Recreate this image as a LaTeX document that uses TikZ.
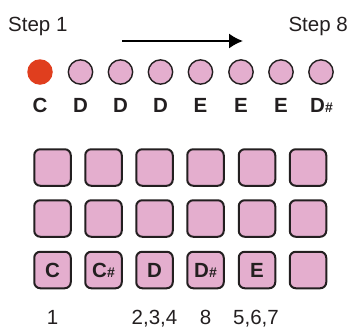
\documentclass[tikz,border=0pt]{standalone}
\usepackage{fontspec}
\setmainfont{Liberation Sans}
\usepackage{xcolor}
\usepackage{tikz}
\usetikzlibrary{arrows.meta, positioning}
\definecolor{padpink}{RGB}{228,174,206}
\definecolor{stepred}{RGB}{224,62,30}
\definecolor{edgegray}{RGB}{35,31,32}
\newcommand{\shp}{{\fontsize{14}{14}\selectfont\bfseries\#}}
\tikzset{
  stepdot/.style={
    circle, draw=edgegray, line width=1.4pt, fill=padpink,
    minimum size=24.3pt, inner sep=0pt
  },
  stepdotred/.style={
    circle, fill=stepred, minimum size=25.5pt, inner sep=0pt
  },
  notelabel/.style={
    font=\fontsize{20.5}{24}\selectfont\bfseries, text=edgegray,
    anchor=base, inner sep=0pt
  },
  padbox/.style={
    draw=edgegray, line width=2pt, rounded corners=6pt, fill=padpink,
    minimum size=36.5pt, inner sep=0pt,
    font=\fontsize{20.5}{24}\selectfont\bfseries, text=edgegray
  },
  steplabel/.style={
    font=\fontsize{20.5}{24}\selectfont, text=edgegray, inner sep=0pt
  },
  countlabel/.style={
    font=\fontsize{20.5}{24}\selectfont, text=edgegray,
    anchor=base, inner sep=0pt
  },
  steparrow/.style={-{Latex[length=14pt, width=15pt]}, line width=1.8pt, black},
}

\begin{document}
\begin{tikzpicture}[x=1pt, y=-1pt]
  \useasboundingbox (0,0) rectangle (353,327);

  % === Step headings ===
  \node[steplabel, anchor=base west] (first) at (8,31) {Step 1};
  \node[steplabel, anchor=base east] (last) at (348,31) {Step 8};

  % === Direction arrow ===
  \coordinate (arrstart) at (122,41);
  \coordinate (arrend) at (243,41);
  \draw[steparrow] (arrstart) -- (arrend);

  % === Sequencer steps ===
  \node[stepdotred] (s1) at (40,72) {};
  \node[stepdot] (s2) at (80.5,72) {};
  \node[stepdot] (s3) at (120.5,72) {};
  \node[stepdot] (s4) at (160.5,72) {};
  \node[stepdot] (s5) at (200.5,72) {};
  \node[stepdot] (s6) at (241,72) {};
  \node[stepdot] (s7) at (281,72) {};
  \node[stepdot] (s8) at (321,72) {};

  % === Step notes ===
  \node[notelabel] (n1) at (40,112) {C};
  \node[notelabel] (n2) at (80.5,112) {D};
  \node[notelabel] (n3) at (120.5,112) {D};
  \node[notelabel] (n4) at (160.5,112) {D};
  \node[notelabel] (n5) at (200.5,112) {E};
  \node[notelabel] (n6) at (241,112) {E};
  \node[notelabel] (n7) at (281,112) {E};
  \node[notelabel] (n8) at (321.5,112) {D\shp};

  % === Pad grid, top row ===
  \node[padbox] (pa1) at (52.5,167.5) {};
  \node[padbox] (pa2) at (103.5,167.5) {};
  \node[padbox] (pa3) at (154.5,167.5) {};
  \node[padbox] (pa4) at (205.5,167.5) {};
  \node[padbox] (pa5) at (257,167.5) {};
  \node[padbox] (pa6) at (308,167.5) {};

  % === Pad grid, middle row ===
  \node[padbox] (pb1) at (52.5,218.5) {};
  \node[padbox] (pb2) at (103.5,218.5) {};
  \node[padbox] (pb3) at (154.5,218.5) {};
  \node[padbox] (pb4) at (205.5,218.5) {};
  \node[padbox] (pb5) at (257,218.5) {};
  \node[padbox] (pb6) at (308,218.5) {};

  % === Pad grid, note row ===
  \node[padbox] (pc1) at (52.5,270) {C};
  \node[padbox] (pc2) at (103.5,270) {C\shp};
  \node[padbox] (pc3) at (154.5,270) {D};
  \node[padbox] (pc4) at (205.5,270) {D\shp};
  \node[padbox] (pc5) at (257,270) {E};
  \node[padbox] (pc6) at (308,270) {};

  % === Step numbers ===
  \node[countlabel] (c1) at (52.5,324) {1};
  \node[countlabel] (c3) at (154.5,324) {2,3,4};
  \node[countlabel] (c4) at (205.5,324) {8};
  \node[countlabel] (c5) at (256,324) {5,6,7};

\end{tikzpicture}
\end{document}
